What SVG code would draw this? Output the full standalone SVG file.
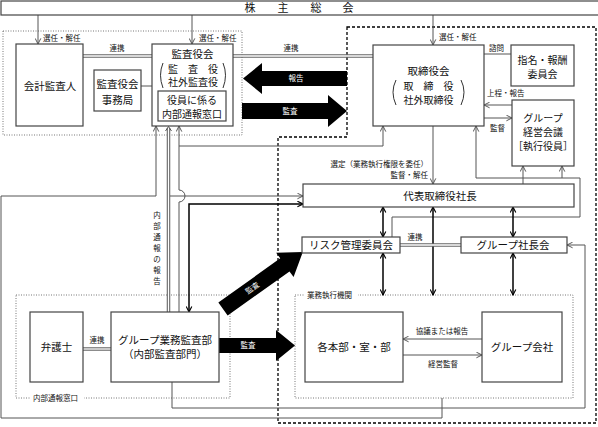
<svg xmlns="http://www.w3.org/2000/svg" width="598" height="427" viewBox="0 0 598 427">
<style>
text{font-family:'Liberation Sans','Noto Sans CJK JP',sans-serif;fill:#111;dominant-baseline:central}
.t{font-size:10.5px;text-anchor:middle}
.s{font-size:7.5px}
.sm{font-size:7.5px;text-anchor:middle}
.w{font-size:7.5px;text-anchor:middle;fill:#fff}
.box{fill:#fff;stroke:#444;stroke-width:1.2}
.c{fill:none;stroke:#555;stroke-width:1}
.k{fill:none;stroke:#000;stroke-width:1.5}
.dbl{fill:none;stroke:#666;stroke-width:3.5}
.dbi{fill:none;stroke:#fff;stroke-width:1.3}
.dot{fill:none;stroke:#777;stroke-width:1;stroke-dasharray:1 1.5}
.br{fill:none;stroke:#333;stroke-width:1}
</style>
<defs>
<marker id="ag" viewBox="0 0 10 10" refX="9" refY="5" markerWidth="7" markerHeight="7" markerUnits="userSpaceOnUse" orient="auto-start-reverse"><path d="M1,1 L9,5 L1,9" fill="none" stroke="#555" stroke-width="1.4"/></marker>
<marker id="ak" viewBox="0 0 10 10" refX="9" refY="5" markerWidth="7" markerHeight="7" markerUnits="userSpaceOnUse" orient="auto-start-reverse"><path d="M1,1 L9,5 L1,9" fill="none" stroke="#000" stroke-width="1.6"/></marker>
</defs>
<rect width="598" height="427" fill="#fff"/>

<!-- frames -->
<g id="frames">
<rect class="dot" x="3" y="31" width="239" height="104"/>
<path d="M347,27 H596 V423 H278 V137 H347 Z" fill="none" stroke="#000" stroke-width="1.3" stroke-dasharray="3 2"/>
<rect class="dot" x="16" y="295" width="214" height="103"/>
<rect class="dot" x="295" y="295" width="278" height="103"/>
</g>

<!-- connectors -->
<g id="connectors">
<path class="c" d="M38,15 V44" marker-end="url(#ag)"/>
<path class="c" d="M192,15 V44" marker-end="url(#ag)"/>
<path class="c" d="M433,15 V45" marker-end="url(#ag)"/>
<path class="dbl" d="M83,56 H152"/><path class="dbi" d="M83,56 H152"/>
<path class="c" d="M141,86 H152"/>
<path class="dbl" d="M233,56 H373"/><path class="dbi" d="M233,56 H373"/>
<path class="c" d="M484,54 H511"/>
<path class="c" d="M512,105 H484" marker-end="url(#ag)"/>
<path class="c" d="M484,118 H512" marker-end="url(#ag)"/>
<path class="c" d="M433,126 V184" marker-end="url(#ag)"/>
<path class="c" d="M523,184 V166" marker-end="url(#ag)"/>
<path class="c" d="M392,237 V217 H580 V178 H476 V126" marker-end="url(#ag)"/>
<path class="c" d="M562,178 V166" marker-end="url(#ag)"/>
<path class="c" d="M179,312 V202 A6,6 0 0 0 179,190 V126" marker-end="url(#ag)"/>
<path class="c" d="M179,146 H383 V126" marker-end="url(#ag)"/>
<path class="dbl" d="M168.5,312 V128"/><path class="dbi" d="M168.5,312 V128"/>
<path class="c" d="M165.5,131 L168.5,126.5 L171.5,131"/>
<path class="c" d="M170,196 H303" marker-end="url(#ag)"/>
<path class="c" d="M442,398 V418 H1 V196 H156 V126" marker-end="url(#ag)"/>
<path class="c" d="M172,382 V408 H585 V245 H567" marker-end="url(#ag)"/>
<path class="k" d="M303,204 H189 V312" marker-start="url(#ak)" marker-end="url(#ak)"/>
<path class="k" d="M383,207 V237" marker-start="url(#ak)" marker-end="url(#ak)"/>
<path class="k" d="M513,207 V237" marker-start="url(#ak)" marker-end="url(#ak)"/>
<path class="k" d="M433,207 V295" marker-start="url(#ak)" marker-end="url(#ak)"/>
<path class="k" d="M383,253 V295" marker-start="url(#ak)" marker-end="url(#ak)"/>
<path class="k" d="M513,253 V295" marker-start="url(#ak)" marker-end="url(#ak)"/>
<path class="c" d="M482,339 H403" marker-end="url(#ag)"/>
<path class="c" d="M403,355 H482" marker-end="url(#ag)"/>
<path class="dbl" d="M400,245 H461"/><path class="dbi" d="M400,245 H461"/>
<path class="dbl" d="M83,349 H111"/><path class="dbi" d="M83,349 H111"/>
<!-- thick arrows -->
<polygon points="347,71 262,71 262,63 243,78.5 262,94 262,86 347,86" fill="#000"/>
<polygon points="242,103 328,103 328,95 347,111 328,127 328,119 242,119" fill="#000"/>
<polygon points="219,338 276,338 276,330 295,345.5 276,361 276,353 219,353" fill="#000"/>
<g transform="translate(223,309) rotate(-35.5)">
<polygon points="0,-8 76,-8 76,-15 98,0 76,15 76,8 0,8" fill="#000"/>
<text class="w" x="36" y="0">監査</text>
</g>
<text class="w" x="296" y="78.5">報告</text>
<text class="w" x="290" y="111">監査</text>
<text class="w" x="248" y="345.5">監査</text>
</g>

<!-- labels -->
<g id="labels">
<text class="s" x="43" y="38">選任・解任</text>
<text class="s" x="199" y="38">選任・解任</text>
<text class="s" x="439" y="37">選任・解任</text>
<text class="sm" x="117" y="48">連携</text>
<text class="sm" x="291" y="48">連携</text>
<text class="s" x="489" y="48">諮問</text>
<text class="s" x="487" y="93">上程・報告</text>
<text class="s" x="490" y="128">監督</text>
<text class="s" x="428" y="164" text-anchor="end">選定（業務執行権限を委任）</text>
<text class="s" x="428" y="175" text-anchor="end">監督・解任</text>
<text class="sm" x="415" y="237">連携</text>
<text class="sm" x="97" y="340">連携</text>
<text class="sm" x="442" y="331">協議または報告</text>
<text class="sm" x="443" y="364">経営監督</text>
<g class="sm">
<text class="sm" x="157" y="215">内</text>
<text class="sm" x="157" y="226">部</text>
<text class="sm" x="157" y="237">通</text>
<text class="sm" x="157" y="248">報</text>
<text class="sm" x="157" y="259">の</text>
<text class="sm" x="157" y="270">報</text>
<text class="sm" x="157" y="281">告</text>
</g>
<rect x="304" y="290" width="54" height="10" fill="#fff"/>
<text class="s" x="307" y="295">業務執行機関</text>
<rect x="30" y="393" width="54" height="10" fill="#fff"/>
<text class="s" x="33" y="398">内部通報窓口</text>
</g>

<!-- nodes -->
<g id="shareholders">
<rect class="box" x="1" y="1" width="600" height="14"/>
<text class="t" x="250" y="8" style="font-size:11px">株</text>
<text class="t" x="283" y="8" style="font-size:11px">主</text>
<text class="t" x="316" y="8" style="font-size:11px">総</text>
<text class="t" x="348" y="8" style="font-size:11px">会</text>
</g>
<g id="accounting-auditor">
<rect class="box" x="16" y="44" width="67" height="82"/>
<text class="t" x="50" y="86">会計監査人</text>
</g>
<g id="audit-office">
<rect class="box" x="94" y="70" width="47" height="41"/>
<text class="t" x="117.5" y="84">監査役会</text>
<text class="t" x="117.5" y="100">事務局</text>
</g>
<g id="audit-board">
<rect class="box" x="152" y="44" width="81" height="82"/>
<text class="t" x="192.5" y="54">監査役会</text>
<text class="t" x="193" y="69" style="font-size:10px">監　査　役</text>
<text class="t" x="193" y="82" style="font-size:10px">社外監査役</text>
<path class="br" d="M163,63 Q158,75 163,88"/>
<path class="br" d="M223,63 Q228,75 223,88"/>
<g id="whistle-window">
<rect class="box" x="158" y="91" width="68" height="30"/>
<text class="t" x="192" y="100" style="font-size:10px">役員に係る</text>
<text class="t" x="192" y="114" style="font-size:10px">内部通報窓口</text>
</g>
</g>
<g id="board">
<rect class="box" x="373" y="45" width="111" height="81"/>
<text class="t" x="428.5" y="71">取締役会</text>
<text class="t" x="428.5" y="86" style="font-size:10px">取　締　役</text>
<text class="t" x="428.5" y="100" style="font-size:10px">社外取締役</text>
<path class="br" d="M396,80 Q390,92 396,105"/>
<path class="br" d="M461,80 Q467,92 461,105"/>
</g>
<g id="nomination">
<rect class="box" x="511" y="45" width="63" height="41"/>
<text class="t" x="542.5" y="60" style="font-size:10px">指名・報酬</text>
<text class="t" x="542.5" y="74" style="font-size:10px">委員会</text>
</g>
<g id="group-mgmt">
<rect class="box" x="512" y="100" width="62" height="66"/>
<text class="t" x="543" y="118" style="font-size:10px">グループ</text>
<text class="t" x="543" y="132" style="font-size:10px">経営会議</text>
<text class="t" x="543" y="146" style="font-size:10px">［執行役員］</text>
</g>
<g id="president">
<rect class="box" x="303" y="184" width="271" height="23"/>
<text class="t" x="440" y="196">代表取締役社長</text>
</g>
<g id="risk">
<rect class="box" x="302" y="237" width="98" height="16"/>
<text class="t" x="351" y="245">リスク管理委員会</text>
</g>
<g id="group-presidents">
<rect class="box" x="461" y="237" width="106" height="16"/>
<text class="t" x="513" y="245">グループ社長会</text>
</g>
<g id="lawyer">
<rect class="box" x="30" y="312" width="53" height="70"/>
<text class="t" x="56.5" y="347">弁護士</text>
</g>
<g id="internal-audit">
<rect class="box" x="111" y="312" width="108" height="70"/>
<text class="t" x="165" y="340">グループ業務監査部</text>
<text class="t" x="165" y="354">（内部監査部門）</text>
</g>
<g id="divisions">
<rect class="box" x="305" y="312" width="98" height="70"/>
<text class="t" x="354" y="347">各本部・室・部</text>
</g>
<g id="group-companies">
<rect class="box" x="482" y="312" width="80" height="70"/>
<text class="t" x="522" y="347">グループ会社</text>
</g>
</svg>
